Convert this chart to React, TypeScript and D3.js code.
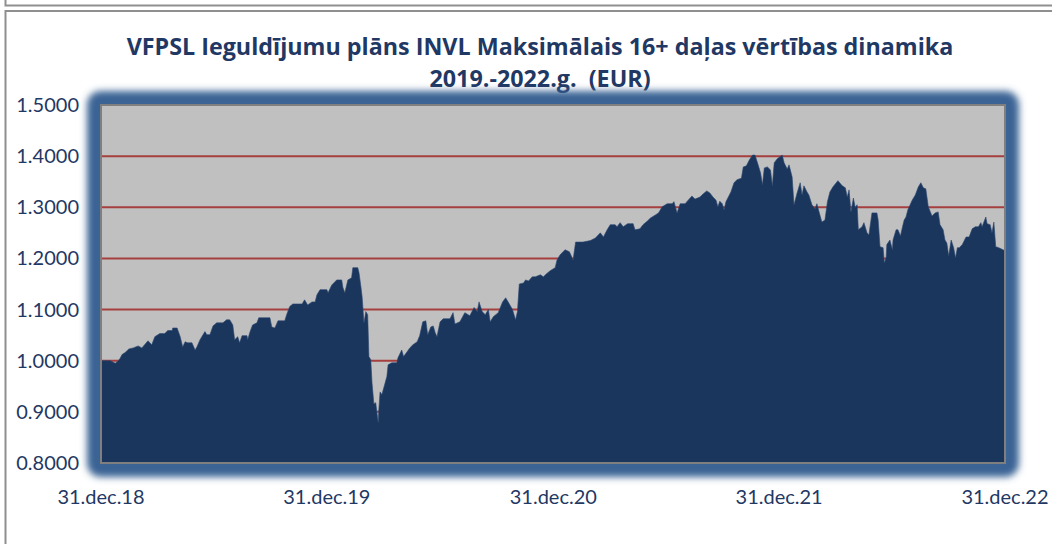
import React from "react";
import * as d3 from "d3";

const titleLines = [
  "VFPSL Ieguldījumu plāns INVL Maksimālais 16+ daļas vērtības dinamika",
  "2019.-2022.g.  (EUR)",
];

const yTicks = [0.8, 0.9, 1.0, 1.1, 1.2, 1.3, 1.4, 1.5];
const xTickDates = ["2018-12-31", "2019-12-31", "2020-12-31", "2021-12-31", "2022-12-31"];
const xTickLabels = ["31.dec.18", "31.dec.19", "31.dec.20", "31.dec.21", "31.dec.22"];

const nav2019: [string, number][] = [
  ["2018-12-31", 1.0], ["2019-01-15", 1.0], ["2019-01-23", 0.995], ["2019-01-28", 1.0],
  ["2019-01-31", 1.005], ["2019-02-03", 1.012], ["2019-02-08", 1.016], ["2019-02-14", 1.023],
  ["2019-02-21", 1.025], ["2019-03-01", 1.029], ["2019-03-07", 1.025], ["2019-03-17", 1.039],
  ["2019-03-23", 1.031], ["2019-03-28", 1.047], ["2019-04-05", 1.053], ["2019-04-13", 1.053],
  ["2019-04-18", 1.059], ["2019-04-25", 1.059], ["2019-04-26", 1.064], ["2019-05-03", 1.064],
  ["2019-05-08", 1.047], ["2019-05-12", 1.027], ["2019-05-16", 1.037], ["2019-05-20", 1.035],
  ["2019-05-27", 1.035], ["2019-06-01", 1.021], ["2019-06-04", 1.027], ["2019-06-09", 1.041],
  ["2019-06-17", 1.057], ["2019-06-20", 1.051], ["2019-06-25", 1.051], ["2019-06-30", 1.068],
  ["2019-07-06", 1.074], ["2019-07-16", 1.074], ["2019-07-22", 1.08], ["2019-07-27", 1.08],
  ["2019-08-01", 1.07], ["2019-08-04", 1.041], ["2019-08-09", 1.047], ["2019-08-12", 1.035],
  ["2019-08-16", 1.049], ["2019-08-24", 1.049], ["2019-08-25", 1.041], ["2019-08-29", 1.057],
  ["2019-09-02", 1.07], ["2019-09-09", 1.074], ["2019-09-12", 1.084], ["2019-09-22", 1.084],
  ["2019-09-30", 1.084], ["2019-10-03", 1.066], ["2019-10-08", 1.064], ["2019-10-13", 1.078],
  ["2019-10-24", 1.078], ["2019-10-27", 1.09], ["2019-11-01", 1.106], ["2019-11-06", 1.111],
  ["2019-11-21", 1.111], ["2019-11-25", 1.119], ["2019-11-30", 1.109], ["2019-12-07", 1.115],
  ["2019-12-12", 1.115], ["2019-12-15", 1.129], ["2019-12-20", 1.139], ["2019-12-31", 1.139],
];

const nav2020: [string, number][] = [
  ["2020-01-02", 1.133], ["2020-01-08", 1.148], ["2020-01-16", 1.158], ["2020-01-24", 1.158],
  ["2020-01-26", 1.143], ["2020-01-29", 1.133], ["2020-02-03", 1.158], ["2020-02-09", 1.162],
  ["2020-02-11", 1.182], ["2020-02-19", 1.182], ["2020-02-21", 1.172], ["2020-02-24", 1.145],
  ["2020-02-26", 1.125], ["2020-02-29", 1.074], ["2020-03-03", 1.096], ["2020-03-06", 1.09],
  ["2020-03-08", 1.008], ["2020-03-11", 1.002], ["2020-03-13", 0.957], ["2020-03-16", 0.916],
  ["2020-03-19", 0.918], ["2020-03-23", 0.879], ["2020-03-24", 0.904], ["2020-03-26", 0.939],
  ["2020-03-29", 0.934], ["2020-04-01", 0.947], ["2020-04-06", 0.969], ["2020-04-08", 0.992],
  ["2020-04-14", 0.996], ["2020-04-22", 0.996], ["2020-04-24", 1.006], ["2020-04-30", 1.021],
  ["2020-05-03", 1.008], ["2020-05-09", 1.018], ["2020-05-13", 1.025], ["2020-05-18", 1.031],
  ["2020-05-25", 1.037], ["2020-05-29", 1.049], ["2020-06-03", 1.076], ["2020-06-08", 1.078],
  ["2020-06-11", 1.051], ["2020-06-16", 1.066], ["2020-06-20", 1.068], ["2020-06-23", 1.055],
  ["2020-06-26", 1.047], ["2020-07-01", 1.076], ["2020-07-06", 1.082], ["2020-07-17", 1.082],
  ["2020-07-22", 1.094], ["2020-07-25", 1.072], ["2020-08-02", 1.076], ["2020-08-10", 1.094],
  ["2020-08-18", 1.088], ["2020-08-25", 1.104], ["2020-08-30", 1.096], ["2020-09-02", 1.115],
  ["2020-09-07", 1.096], ["2020-09-12", 1.09], ["2020-09-17", 1.1], ["2020-09-20", 1.076],
  ["2020-09-25", 1.086], ["2020-10-03", 1.094], ["2020-10-10", 1.115], ["2020-10-15", 1.123],
  ["2020-10-20", 1.113], ["2020-10-26", 1.1], ["2020-10-31", 1.08], ["2020-11-03", 1.096],
  ["2020-11-06", 1.15], ["2020-11-13", 1.152], ["2020-11-16", 1.158], ["2020-11-21", 1.156],
  ["2020-11-27", 1.164], ["2020-12-02", 1.164], ["2020-12-10", 1.168], ["2020-12-15", 1.164],
  ["2020-12-20", 1.17], ["2020-12-26", 1.176],
];

const nav2021: [string, number][] = [
  ["2021-01-03", 1.182], ["2021-01-06", 1.197], ["2021-01-11", 1.207], ["2021-01-19", 1.217],
  ["2021-01-26", 1.213], ["2021-02-01", 1.197], ["2021-02-05", 1.232], ["2021-02-17", 1.232],
  ["2021-03-01", 1.235], ["2021-03-09", 1.24], ["2021-03-17", 1.25], ["2021-03-22", 1.242],
  ["2021-03-28", 1.256], ["2021-04-02", 1.266], ["2021-04-10", 1.266], ["2021-04-13", 1.262],
  ["2021-04-18", 1.27], ["2021-04-23", 1.262], ["2021-04-30", 1.268], ["2021-05-09", 1.268],
  ["2021-05-12", 1.256], ["2021-05-20", 1.258], ["2021-05-25", 1.266], ["2021-06-01", 1.273],
  ["2021-06-06", 1.279], ["2021-06-14", 1.285], ["2021-06-19", 1.289], ["2021-06-25", 1.301],
  ["2021-07-03", 1.307], ["2021-07-11", 1.307], ["2021-07-14", 1.311], ["2021-07-19", 1.289],
  ["2021-07-24", 1.307], ["2021-08-01", 1.307], ["2021-08-06", 1.314], ["2021-08-12", 1.322],
  ["2021-08-17", 1.316], ["2021-08-25", 1.32], ["2021-08-30", 1.326], ["2021-09-05", 1.332],
  ["2021-09-10", 1.328], ["2021-09-15", 1.32], ["2021-09-20", 1.314], ["2021-09-23", 1.301],
  ["2021-09-26", 1.312], ["2021-09-30", 1.307], ["2021-10-03", 1.295], ["2021-10-06", 1.311],
  ["2021-10-14", 1.33], ["2021-10-19", 1.348], ["2021-10-24", 1.354], ["2021-10-31", 1.357],
  ["2021-11-03", 1.379], ["2021-11-08", 1.381], ["2021-11-13", 1.393], ["2021-11-18", 1.402],
  ["2021-11-22", 1.402], ["2021-11-26", 1.387], ["2021-12-01", 1.367], ["2021-12-04", 1.344],
  ["2021-12-07", 1.377], ["2021-12-12", 1.379], ["2021-12-17", 1.373], ["2021-12-20", 1.342],
  ["2021-12-23", 1.387], ["2021-12-28", 1.395],
];

const nav2022: [string, number][] = [
  ["2022-01-05", 1.402], ["2022-01-08", 1.387], ["2022-01-13", 1.375], ["2022-01-16", 1.383],
  ["2022-01-21", 1.359], ["2022-01-24", 1.305], ["2022-01-29", 1.328], ["2022-02-03", 1.348],
  ["2022-02-06", 1.324], ["2022-02-09", 1.342], ["2022-02-14", 1.33], ["2022-02-17", 1.324],
  ["2022-02-22", 1.305], ["2022-02-27", 1.297], ["2022-03-02", 1.307], ["2022-03-06", 1.289],
  ["2022-03-10", 1.271], ["2022-03-15", 1.275], ["2022-03-19", 1.311], ["2022-03-23", 1.33],
  ["2022-03-28", 1.34], ["2022-04-05", 1.352], ["2022-04-12", 1.342], ["2022-04-17", 1.338],
  ["2022-04-20", 1.32], ["2022-04-23", 1.334], ["2022-04-26", 1.291], ["2022-04-30", 1.318],
  ["2022-05-03", 1.299], ["2022-05-06", 1.305], ["2022-05-08", 1.256], ["2022-05-14", 1.262],
  ["2022-05-17", 1.27], ["2022-05-22", 1.25], ["2022-05-25", 1.246], ["2022-05-30", 1.289],
  ["2022-06-07", 1.289], ["2022-06-09", 1.275], ["2022-06-12", 1.223], ["2022-06-17", 1.221],
  ["2022-06-19", 1.191], ["2022-06-22", 1.203], ["2022-06-23", 1.227], ["2022-06-28", 1.236],
  ["2022-07-02", 1.217], ["2022-07-03", 1.236], ["2022-07-08", 1.256], ["2022-07-11", 1.256],
  ["2022-07-15", 1.244], ["2022-07-18", 1.26], ["2022-07-21", 1.275], ["2022-07-24", 1.281],
  ["2022-07-27", 1.295], ["2022-08-03", 1.314], ["2022-08-08", 1.324], ["2022-08-13", 1.34],
  ["2022-08-17", 1.348], ["2022-08-21", 1.338], ["2022-08-25", 1.336], ["2022-08-29", 1.301],
  ["2022-09-04", 1.283], ["2022-09-09", 1.289], ["2022-09-14", 1.291], ["2022-09-17", 1.266],
  ["2022-09-22", 1.256], ["2022-09-25", 1.236], ["2022-09-28", 1.23], ["2022-10-01", 1.205],
  ["2022-10-05", 1.236], ["2022-10-09", 1.221], ["2022-10-12", 1.201], ["2022-10-15", 1.221],
  ["2022-10-18", 1.221], ["2022-10-23", 1.227], ["2022-10-29", 1.242], ["2022-11-03", 1.242],
  ["2022-11-08", 1.258], ["2022-11-13", 1.262], ["2022-11-18", 1.262], ["2022-11-22", 1.27],
  ["2022-11-24", 1.262], ["2022-11-30", 1.281], ["2022-12-02", 1.268], ["2022-12-07", 1.266],
  ["2022-12-10", 1.25], ["2022-12-13", 1.271], ["2022-12-16", 1.223], ["2022-12-21", 1.221],
  ["2022-12-31", 1.215],
];

const W = 1052;
const H = 544;
const plot = { left: 101, right: 1005, top: 105, bottom: 463 };
const navy = "#1F3864";
const font = "Lato, 'Open Sans', sans-serif";
const titleFont = "'Open Sans', Lato, sans-serif";

export default function App() {
  const parse = d3.utcParse("%Y-%m-%d");
  const series = [...nav2019, ...nav2020, ...nav2021, ...nav2022].map(([d, v]) => ({
    date: parse(d) as Date,
    value: v,
  }));

  const x = d3
    .scaleUtc()
    .domain([parse(xTickDates[0]) as Date, parse(xTickDates[xTickDates.length - 1]) as Date])
    .range([plot.left, plot.right]);
  const y = d3.scaleLinear().domain([0.8, 1.5]).range([plot.bottom, plot.top]);

  const area = d3
    .area<{ date: Date; value: number }>()
    .x((d) => x(d.date))
    .y0(y(0.8))
    .y1((d) => y(d.value))
    .curve(d3.curveLinear);

  const pw = plot.right - plot.left;
  const ph = plot.bottom - plot.top;

  return (
    <div style={{ position: "absolute", left: 0, top: 0 }}>
      <svg width={W} height={H} style={{ display: "block" }}>
        <defs>
          <filter id="glow" x="-10%" y="-10%" width="120%" height="120%">
            <feGaussianBlur stdDeviation="3.5" />
          </filter>
        </defs>
        <rect x={0} y={0} width={W} height={H} fill="#ffffff" />
        {/* outer frames */}
        <rect x={5.5} y={-20} width={W + 20} height={25.5} fill="none" stroke="#8f8f8f" strokeWidth={2} />
        <rect x={5.5} y={11} width={W + 20} height={H + 20} fill="none" stroke="#8f8f8f" strokeWidth={2} />

        {/* title */}
        {titleLines.map((t, i) => (
          <text
            key={i}
            x={540}
            y={55 + i * 32}
            textAnchor="middle"
            fontFamily={titleFont}
            fontWeight={700}
            fontSize={23.3}
            fill={navy}
            style={{ whiteSpace: "pre" }}
          >
            {t}
          </text>
        ))}

        {/* glow around plot area */}
        <rect
          x={plot.left - 14}
          y={plot.top - 14}
          width={pw + 28}
          height={ph + 28}
          rx={14}
          fill="#3a6394"
          filter="url(#glow)"
        />
        <rect x={plot.left} y={plot.top} width={pw} height={ph} fill="#c0c0c0" />

        {/* gridlines */}
        {yTicks.slice(1).map((t) => (
          <line
            key={t}
            x1={plot.left}
            x2={plot.right}
            y1={y(t)}
            y2={y(t)}
            stroke="#a5403f"
            strokeWidth={2}
          />
        ))}

        {/* area */}
        <path d={area(series) || ""} fill="#1a365d" stroke="#2a4670" strokeWidth={0.6} />

        {/* plot border */}
        <rect x={plot.left} y={plot.top} width={pw} height={ph} fill="none" stroke="#7f7f7f" strokeWidth={2} />

        {/* y labels */}
        {yTicks.map((t) => (
          <text
            key={t}
            x={79}
            y={y(t)}
            dy="0.35em"
            textAnchor="end"
            fontFamily={font}
            fontSize={20}
            fill={navy}
          >
            {d3.format(".4f")(t)}
          </text>
        ))}

        {/* x labels */}
        {xTickDates.map((d, i) => (
          <text
            key={d}
            x={x(parse(d) as Date)}
            y={497}
            dy="0.35em"
            textAnchor="middle"
            fontFamily={font}
            fontSize={20}
            fill={navy}
          >
            {xTickLabels[i]}
          </text>
        ))}
      </svg>
    </div>
  );
}
